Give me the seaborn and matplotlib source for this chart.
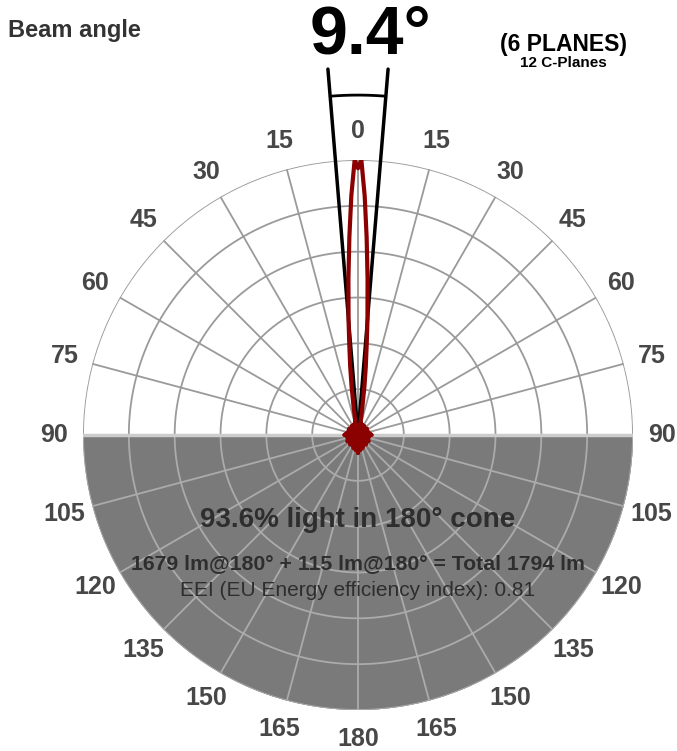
import numpy as np
import pandas as pd
import seaborn as sns
import matplotlib.pyplot as plt

sns.set_style("white")
plt.rcParams['font.family'] = ['Liberation Sans', 'DejaVu Sans']

# luminous intensity, % of max, symmetric C-plane (gamma 0..180)
gamma_deg = [0, 0.7, 1.6, 2.5, 3.5, 4.7, 5.5, 6.5, 7.5, 9, 11, 13, 15,
             20, 25, 30, 35, 40, 45, 50, 55, 60, 65, 70, 75, 80, 85, 90,
             95, 100, 105, 110, 115, 120, 125, 130, 135, 140, 145, 150,
             155, 160, 165, 170, 175, 180]
intensity = [97, 100, 87, 72, 57, 42, 33, 25, 18, 10, 5, 2.5, 4.5,
             1, 4, 1, 4, 1, 3.5, 1, 4, 1, 3.5, 1, 4, 1, 4.5, 5,
             1, 4, 1, 4, 1, 4.5, 1, 4, 1, 4.5, 1, 4,
             1, 5, 1, 5.5, 1.5, 6.5]

beam_angle = 9.4
ring_levels = [100 / 6 * k for k in range(1, 7)]
label_angles = [0, 15, 30, 45, 60, 75, 90, 105, 120, 135, 150, 165, 180]

# mirror to full curve
theta = [-g for g in gamma_deg[::-1]] + gamma_deg[1:]
r = intensity[::-1] + intensity[1:]
df = pd.DataFrame({'theta': np.deg2rad(theta), 'r': r})

fig = plt.figure(figsize=(6.77, 7.51), dpi=100)
cx, cy, R = 358, 435, 275
ax = fig.add_axes([(cx - R) / 677, (751 - cy - R) / 751, 2 * R / 677, 2 * R / 751],
                  projection='polar')
ax.set_theta_zero_location('N')
ax.set_theta_direction(-1)
ax.set_ylim(0, 100)
ax.grid(False)
ax.set_xticks([])
ax.set_yticks([])
ax.spines['polar'].set_visible(False)

# lower half shaded
tl = np.linspace(np.pi / 2, 3 * np.pi / 2, 200)
ax.fill_between(tl, 0, 100, color='#7a7a7a', zorder=0)

tu = np.linspace(-np.pi / 2, np.pi / 2, 200)
for lv in ring_levels:
    ax.plot(tu, [lv] * len(tu), color='#9a9a9a', lw=1.3, zorder=1)
    ax.plot(tl, [lv] * len(tl), color='#ababab', lw=1.3, zorder=1)
for a in range(0, 360, 15):
    t = np.deg2rad(a)
    col = '#9a9a9a' if (a < 90 or a > 270) else '#ababab'
    ax.plot([t, t], [0, 100], color=col, lw=1.3, zorder=1)
ax.plot([np.pi / 2, np.pi / 2], [0, 100], color='#cccccc', lw=2.5, zorder=1)
ax.plot([-np.pi / 2, -np.pi / 2], [0, 100], color='#cccccc', lw=2.5, zorder=1)

# beam angle wedge
half = np.deg2rad(beam_angle / 2)
for s in (-1, 1):
    ax.plot([s * half, s * half], [0, 133.5], color='black', lw=2.5,
            clip_on=False, zorder=3)
ta = np.linspace(-half, half, 30)
ax.plot(ta, [123.6] * len(ta), color='black', lw=2, clip_on=False, zorder=3)

sns.lineplot(data=df, x='theta', y='r', sort=False, estimator=None,
             color='#8b0000', lw=3, ax=ax, zorder=4)
ax.set_xlabel('')
ax.set_ylabel('')

for a in label_angles:
    for s in ((1,) if a in (0, 180) else (1, -1)):
        ax.text(np.deg2rad(s * a), 110.5, str(a), ha='center', va='center',
                fontsize=18, fontweight='bold', color='#474747', clip_on=False)

fig.text(8 / 677, 1 - 30 / 751, 'Beam angle', fontsize=17, fontweight='bold',
         color='#333333', ha='left', va='center')
fig.text(370 / 677, 1 - 35 / 751, '9.4°', fontsize=49, fontweight='bold',
         color='black', ha='center', va='center')
fig.text(563 / 677, 1 - 45 / 751, '(6 PLANES)', fontsize=16.5, fontweight='bold',
         color='black', ha='center', va='center')
fig.text(563 / 677, 1 - 63 / 751, '12 C-Planes', fontsize=11, fontweight='bold',
         color='black', ha='center', va='center')

fig.text(358 / 677, 1 - 520 / 751, '93.6% light in 180° cone', fontsize=20,
         fontweight='bold', color='#2e2e2e', ha='center', va='center')
fig.text(358 / 677, 1 - 564 / 751, '1679 lm@180° + 115 lm@180° = Total 1794 lm',
         fontsize=15.3, fontweight='bold', color='#2e2e2e', ha='center', va='center')
fig.text(358 / 677, 1 - 591 / 751, 'EEI (EU Energy efficiency index): 0.81',
         fontsize=15, color='#2e2e2e', ha='center', va='center')

fig.savefig('out.png', dpi=100)
